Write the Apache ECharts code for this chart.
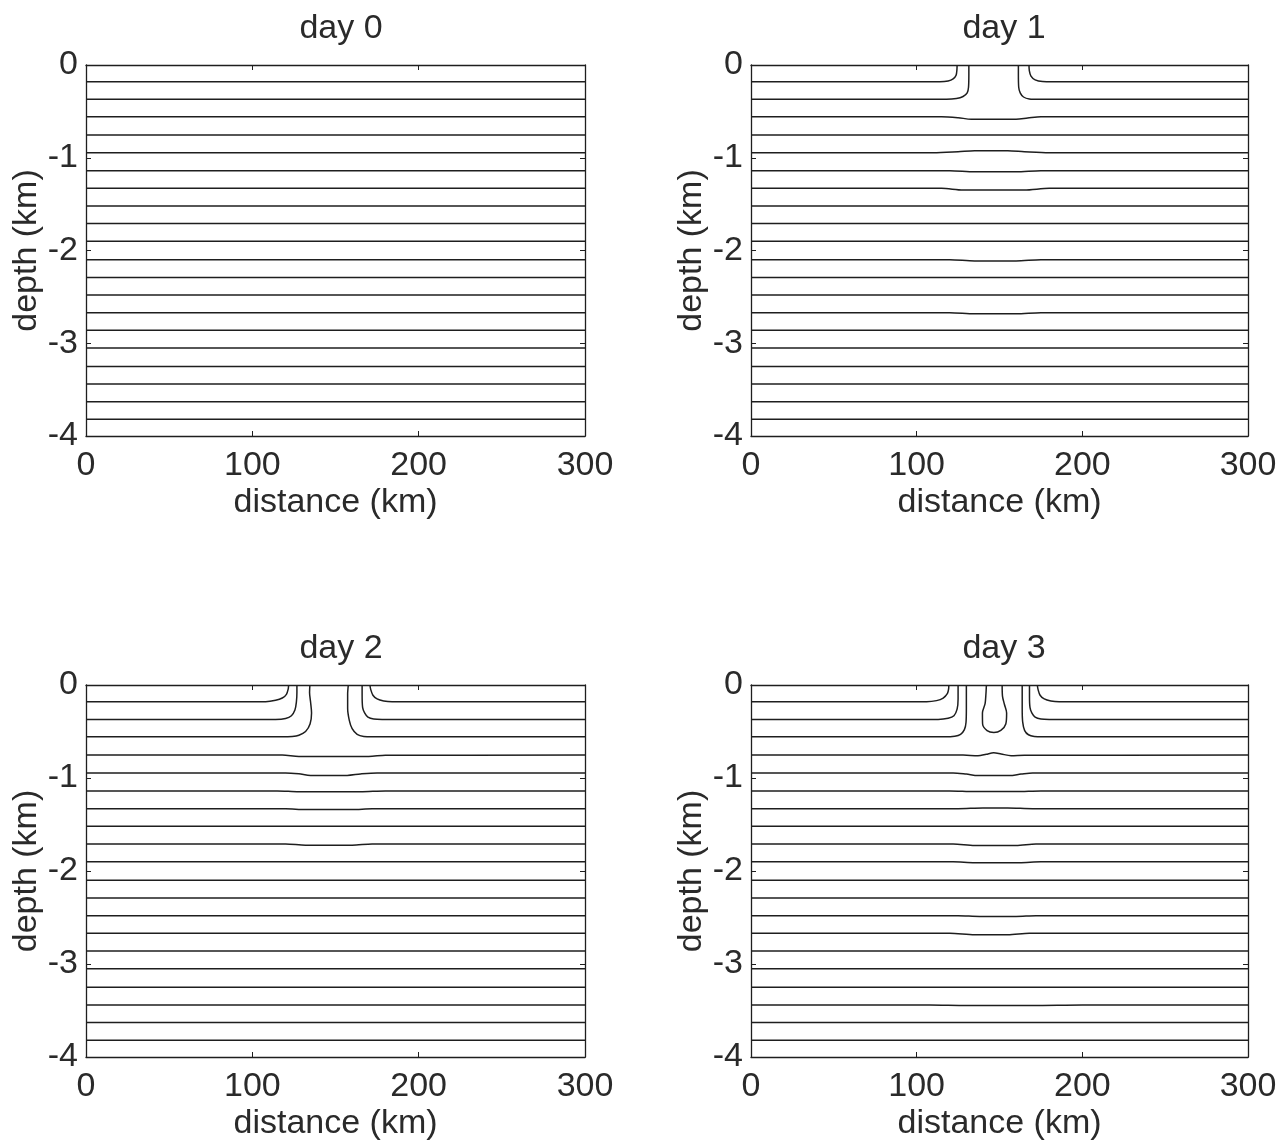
<!DOCTYPE html>
<html>
<head>
<meta charset="utf-8">
<script src="https://cdn.jsdelivr.net/npm/echarts@6/dist/echarts.min.js"></script>
<style>
  html, body { margin: 0; padding: 0; background: #fff; }
  #chart { width: 1285px; height: 1146px; }
</style>
</head>
<body>
<div id="chart"></div>
<script>
// axis ticks and panel titles
const xTicks = [0, 100, 200, 300];
const yTicks = [0, -1, -2, -3, -4];
const dayTitles = ['day 0', 'day 1', 'day 2', 'day 3'];

// depths (km) of the 20 contour levels at rest
const levelDepths = [-0.18, -0.37, -0.557, -0.754, -0.945, -1.139, -1.33, -1.52, -1.71, -1.90,
    -2.10, -2.29, -2.48, -2.67, -2.86, -3.05, -3.25, -3.44, -3.63, -3.82];

// contours that are not straight: [distance km, depth km] polylines
const day1Curves = [
    [[0, -0.18], [114, -0.18], [119, -0.172], [122, -0.15], [123.8, -0.11], [124.3, -0.05], [124.4, 0]],
    [[167.8, 0], [168, -0.06], [169, -0.12], [171.5, -0.16], [176, -0.178], [182, -0.18], [300, -0.18]],
    [[0, -0.37], [118, -0.37], [124, -0.362], [128, -0.34], [130.5, -0.30], [131.3, -0.24], [131.5, -0.1], [131.5, 0]],
    [[161.4, 0], [161.4, -0.1], [161.6, -0.24], [162.5, -0.30], [164.5, -0.345], [168, -0.366], [174, -0.37], [300, -0.37]],
    [[0, -0.557], [115, -0.557], [125, -0.568], [133, -0.585], [160, -0.585], [167, -0.572], [175, -0.558], [300, -0.557]],
    [[0, -0.945], [110, -0.945], [125, -0.935], [135, -0.925], [155, -0.925], [165, -0.935], [180, -0.945], [300, -0.945]],
    [[0, -1.139], [120, -1.139], [135, -1.152], [160, -1.152], [175, -1.139], [300, -1.139]],
    [[0, -1.33], [115, -1.33], [128, -1.348], [165, -1.348], [180, -1.33], [300, -1.33]],
    [[0, -2.10], [120, -2.10], [135, -2.112], [160, -2.112], [175, -2.10], [300, -2.10]],
    [[0, -2.67], [120, -2.67], [135, -2.682], [160, -2.682], [175, -2.67], [300, -2.67]]
];
const day1Flat = [-0.754, -1.52, -1.71, -1.90, -2.29, -2.48, -2.86, -3.05, -3.25, -3.44, -3.63, -3.82];

const day2Curves = [
    [[0, -0.18], [108, -0.18], [114, -0.165], [118, -0.14], [120.5, -0.1], [121.6, -0.04], [121.8, 0]],
    [[170.7, 0], [171.2, -0.05], [172.5, -0.11], [175, -0.15], [179, -0.172], [184, -0.18], [300, -0.18]],
    [[0, -0.37], [114, -0.37], [120, -0.36], [123.5, -0.33], [125.6, -0.27], [126.5, -0.18], [126.8, -0.08], [126.8, 0]],
    [[166, 0], [166, -0.1], [166.3, -0.24], [167.5, -0.3], [169.5, -0.345], [173, -0.366], [178, -0.37], [300, -0.37]],
    [[0, -0.557], [118, -0.557], [124, -0.553], [128, -0.54], [132, -0.50], [134.7, -0.42], [135.6, -0.3], [135, -0.18], [134.4, -0.08], [134.6, 0]],
    [[157.7, 0], [157.3, -0.1], [157.3, -0.25], [158.3, -0.38], [160, -0.47], [163, -0.53], [167, -0.553], [172, -0.557], [300, -0.557]],
    [[0, -0.754], [118, -0.754], [128, -0.768], [170, -0.768], [180, -0.755], [300, -0.754]],
    [[0, -0.945], [120, -0.945], [128, -0.955], [135, -0.972], [157, -0.972], [165, -0.956], [175, -0.945], [300, -0.945]],
    [[0, -1.139], [115, -1.139], [128, -1.148], [165, -1.148], [180, -1.139], [300, -1.139]],
    [[0, -1.33], [120, -1.33], [132, -1.34], [160, -1.34], [172, -1.33], [300, -1.33]],
    [[0, -1.71], [120, -1.71], [132, -1.722], [160, -1.722], [172, -1.71], [300, -1.71]]
];
const day2Flat = [-1.52, -1.90, -2.10, -2.29, -2.48, -2.67, -2.86, -3.05, -3.25, -3.44, -3.63, -3.82];

const day3Curves = [
    [[0, -0.18], [106, -0.18], [112, -0.168], [116, -0.14], [118.6, -0.09], [119.3, -0.04], [119.4, 0]],
    [[172.8, 0], [173.3, -0.05], [174.5, -0.11], [177, -0.15], [181, -0.172], [186, -0.18], [300, -0.18]],
    [[0, -0.37], [113, -0.37], [119, -0.358], [122.5, -0.33], [124.4, -0.26], [125, -0.15], [125, 0]],
    [[168.1, 0], [168.1, -0.12], [168.4, -0.24], [169.5, -0.3], [171.5, -0.345], [175, -0.366], [180, -0.37], [300, -0.37]],
    [[0, -0.557], [117, -0.557], [123, -0.55], [126.5, -0.53], [128.8, -0.48], [129.8, -0.4], [130, -0.25], [130, 0]],
    [[163.7, 0], [163.7, -0.25], [164, -0.4], [165.2, -0.49], [167.5, -0.535], [171, -0.553], [176, -0.557], [300, -0.557]],
    [[142.1, 0], [141.8, -0.1], [141.3, -0.2], [139.7, -0.3], [139.8, -0.42], [142.5, -0.49], [146.6, -0.51], [150.8, -0.488], [153.8, -0.42], [154.3, -0.3], [153, -0.21], [151.8, -0.12], [151.6, 0]],
    [[0, -0.754], [128, -0.754], [137, -0.762], [142, -0.745], [146.5, -0.728], [151, -0.742], [157, -0.76], [165, -0.755], [300, -0.754]],
    [[0, -0.945], [122, -0.945], [130, -0.958], [137, -0.974], [156, -0.974], [163, -0.958], [170, -0.945], [300, -0.945]],
    [[0, -1.139], [120, -1.139], [135, -1.146], [160, -1.146], [175, -1.139], [300, -1.139]],
    [[0, -1.33], [125, -1.33], [140, -1.322], [155, -1.322], [170, -1.33], [300, -1.33]],
    [[0, -1.71], [122, -1.71], [135, -1.726], [160, -1.726], [172, -1.71], [300, -1.71]],
    [[0, -1.90], [122, -1.90], [135, -1.91], [162, -1.91], [175, -1.90], [300, -1.90]],
    [[0, -2.48], [125, -2.48], [138, -2.488], [160, -2.488], [172, -2.48], [300, -2.48]],
    [[0, -2.67], [120, -2.67], [135, -2.685], [155, -2.685], [168, -2.67], [300, -2.67]],
    [[0, -3.44], [108, -3.44], [130, -3.446], [170, -3.446], [200, -3.44], [300, -3.44]]
];
const day3Flat = [-1.52, -2.10, -2.29, -2.86, -3.05, -3.25, -3.63, -3.82];

const dayCurves = [[], day1Curves, day2Curves, day3Curves];
const dayFlat = [levelDepths, day1Flat, day2Flat, day3Flat];

const panels = [
    { left: 86, top: 65, width: 499, height: 371, titleX: 336, titleY: 7 },
    { left: 751, top: 65, width: 497, height: 371, titleX: 999, titleY: 7 },
    { left: 86, top: 685, width: 499, height: 372, titleX: 336, titleY: 627 },
    { left: 751, top: 685, width: 497, height: 372, titleX: 999, titleY: 627 }
];

const FONT = 'Liberation Sans, Arial, Helvetica, sans-serif';
const INK = '#1e1e1e';
const TEXT = '#2a2a2a';
const FS = 34;
const lineStyle = { color: INK, width: 1.5 };

const grid = [], xAxis = [], yAxis = [], title = [], series = [];

panels.forEach((p, i) => {
    grid.push({ left: p.left, top: p.top, width: p.width, height: p.height });
    title.push({
        text: dayTitles[i], left: p.titleX, top: p.titleY, textAlign: 'center',
        textStyle: { fontFamily: FONT, fontSize: FS, fontWeight: 'normal', color: TEXT }
    });
    const xBase = {
        type: 'value', gridIndex: i, min: xTicks[0], max: xTicks[xTicks.length - 1], interval: 100,
        splitLine: { show: false },
        axisLine: { onZero: false, lineStyle: { color: INK, width: 1.3 } },
        axisTick: { inside: true, length: 5, lineStyle: { color: INK } }
    };
    xAxis.push(Object.assign({}, xBase, {
        position: 'bottom',
        name: 'distance (km)', nameLocation: 'middle', nameGap: 50,
        nameTextStyle: { fontFamily: FONT, fontSize: FS, color: TEXT },
        axisLabel: { margin: 13, fontFamily: FONT, fontSize: FS, color: TEXT }
    }));
    xAxis.push(Object.assign({}, xBase, { position: 'top', axisLabel: { show: false } }));

    const yBase = {
        type: 'value', gridIndex: i, min: yTicks[yTicks.length - 1], max: yTicks[0], interval: 1,
        splitLine: { show: false },
        axisLine: { onZero: false, lineStyle: { color: INK, width: 1.3 } },
        axisTick: { inside: true, length: 5, lineStyle: { color: INK } }
    };
    yAxis.push(Object.assign({}, yBase, {
        position: 'left',
        name: 'depth (km)', nameLocation: 'middle', nameGap: 42, nameRotate: 90,
        nameTextStyle: { fontFamily: FONT, fontSize: FS, color: TEXT },
        axisLabel: { margin: 8, fontFamily: FONT, fontSize: FS, color: TEXT }
    }));
    yAxis.push(Object.assign({}, yBase, { position: 'right', axisLabel: { show: false } }));

    const addLine = pts => series.push({
        type: 'line', xAxisIndex: i * 2, yAxisIndex: i * 2, data: pts,
        showSymbol: false, smooth: 0.3, lineStyle: lineStyle, silent: true, animation: false
    });
    dayFlat[i].forEach(d => addLine([[xTicks[0], d], [xTicks[xTicks.length - 1], d]]));
    dayCurves[i].forEach(addLine);
});

const chart = echarts.init(document.getElementById('chart'));
chart.setOption({ animation: false, backgroundColor: '#fff', title, grid, xAxis, yAxis, series });
</script>
</body>
</html>
